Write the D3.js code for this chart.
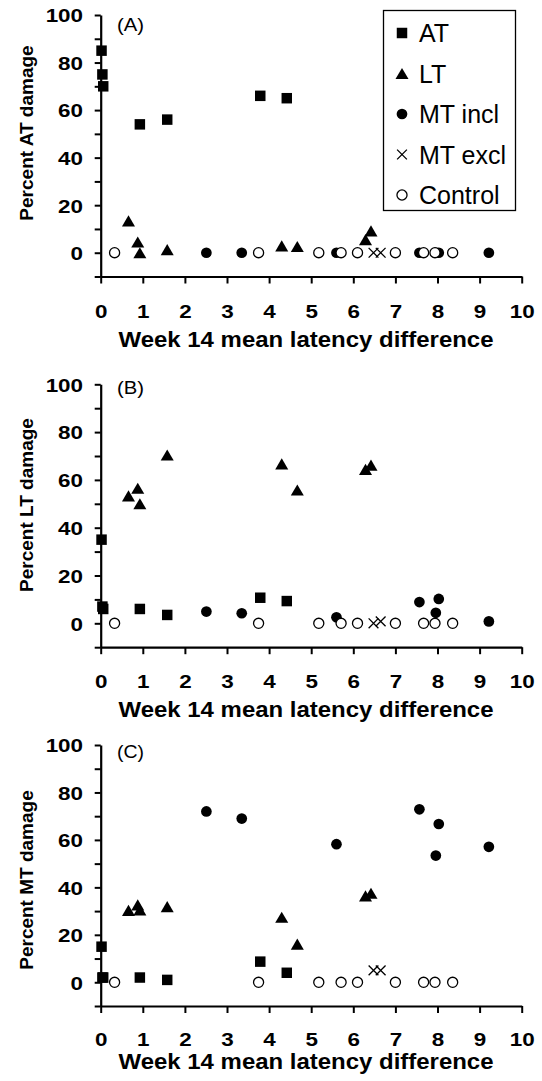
<!DOCTYPE html>
<html lang="en">
<head>
<meta charset="UTF-8">
<title>Percent damage vs latency difference</title>
<script src="https://cdn.jsdelivr.net/npm/d3@7"></script>
<style>
    body { margin: 0; background: #fff; }
    svg { display: block; font-family: "Liberation Sans", Arial, sans-serif; }
</style>
</head>
<body>
<div id="chart"></div>
<script>
    // --- data ---
    const groups = ["AT", "LT", "MT incl", "MT excl", "Control"];

    const atX = [0.02, 0.04, 0.06, 0.93, 1.58, 3.79, 4.42];
    const atA = [85, 75, 70, 54, 56, 66, 65];
    const atB = [35, 7, 6, 6, 3.5, 10.7, 9.3];
    const atC = [15, 2, 2, 2, 1, 8.7, 4];

    const ltX = [0.66, 0.88, 0.93, 1.58, 4.30, 4.67, 6.29, 6.42];
    const ltA = [13.4, 4.5, 0, 1.3, 2.9, 2.6, 5.5, 9.2];
    const ltB = [53.3, 56.5, 50, 70.4, 66.7, 55.8, 64.4, 66.2];
    const ltC = [30.3, 32.6, 30.5, 31.9, 27.4, 16.1, 36.4, 37.5];

    const mtiX = [2.51, 3.35, 5.6, 7.57, 7.96, 8.03, 9.22];
    const mtiA = [0, 0, 0, 0, 0, 0, 0];
    const mtiB = [4.9, 4.2, 2.5, 8.9, 4.4, 10.2, 0.8];
    const mtiC = [72, 69, 58.2, 72.9, 53.4, 66.7, 57.1];

    const mteX = [6.48, 6.65];
    const mteA = [0, 0];
    const mteB = [0, 0.8];
    const mteC = [5, 5];

    const ctlX = [0.33, 3.75, 5.18, 5.71, 6.1, 7.0, 7.67, 7.94, 8.36];
    const ctlA = [0, 0, 0, 0, 0, 0, 0, 0, 0];
    const ctlB = [0, 0, 0, 0, 0, 0, 0, 0, 0];
    const ctlC = [0, 0, 0, 0, 0, 0, 0, 0, 0];

    const xTicks = d3.range(0, 11, 1);
    const yTicks = d3.range(-10, 101, 10);
    const yLabels = [0, 20, 40, 60, 80, 100];

    const panelNames = ["(A)", "(B)", "(C)"];
    const yTitles = ["Percent AT damage", "Percent LT damage", "Percent MT damage"];
    const xTitle = "Week 14 mean latency difference";

    const seriesX = [atX, ltX, mtiX, mteX, ctlX];
    const seriesY = [
        [atA, ltA, mtiA, mteA, ctlA],
        [atB, ltB, mtiB, mteB, ctlB],
        [atC, ltC, mtiC, mteC, ctlC]
    ];

    // --- layout ---
    const width = 542, height = 1081;
    const layout = [
        { top: 15, bottom: 276.5, labelY: 31, titleCY: 133, xLabY: 318, xTitleY: 347 },
        { top: 384.3, bottom: 647.2, labelY: 394, titleCY: 505, xLabY: 688, xTitleY: 717 },
        { top: 745, bottom: 1006, labelY: 758, titleCY: 880, xLabY: 1046, xTitleY: 1069 }
    ];
    const stretch = 1.18;

    const svg = d3.select("#chart").append("svg")
        .attr("width", width)
        .attr("height", height);

    const x = d3.scaleLinear().domain([0, 10]).range([100.7, 521.7]);

    // triangle centred on its bounding box
    const triangle = {
        draw(ctx, size) {
            const s = Math.sqrt(size);
            ctx.moveTo(0, -s * 0.47);
            ctx.lineTo(s * 0.55, s * 0.47);
            ctx.lineTo(-s * 0.55, s * 0.47);
            ctx.closePath();
        }
    };
    const marks = [
        { sym: d3.symbol(d3.symbolSquare, 110), fill: "#000", stroke: "none" },
        { sym: d3.symbol(triangle, 140), fill: "#000", stroke: "none" },
        { sym: d3.symbol(d3.symbolCircle, 90), fill: "#000", stroke: "none" },
        { sym: d3.symbol(d3.symbolTimes, 64), fill: "none", stroke: "#000" },
        { sym: d3.symbol(d3.symbolCircle, 80), fill: "#fff", stroke: "#000" }
    ];

    layout.forEach((p, i) => {
        const y = d3.scaleLinear().domain([-10, 100]).range([p.bottom, p.top]);
        const g = svg.append("g");

        // y axis
        const ya = g.append("g")
            .attr("transform", `translate(${x(0)},0)`)
            .call(d3.axisLeft(y)
                .tickValues(yTicks)
                .tickSize(6)
                .tickSizeOuter(0)
                .tickPadding(9)
                .tickFormat(d => yLabels.includes(d) ? d : ""));
        // x axis
        const xa = g.append("g")
            .attr("transform", `translate(0,${y(-10)})`)
            .call(d3.axisBottom(x)
                .tickValues(xTicks)
                .tickSize(7)
                .tickSizeOuter(0)
                .tickPadding(p.xLabY - y(-10) - 7 - 13.5));

        [ya, xa].forEach(a => {
            a.select(".domain").attr("stroke-width", 2.2);
            a.selectAll(".tick line").attr("stroke-width", 2);
            a.selectAll(".tick text")
                .attr("font-family", "Liberation Sans, Arial, sans-serif")
                .attr("font-size", 19)
                .attr("font-weight", "bold")
                .attr("fill", "#000");
        });
        ya.selectAll(".tick text")
            .attr("dy", "0.36em")
            .attr("transform", `scale(${stretch},1)`);
        xa.selectAll(".tick text")
            .attr("transform", `scale(${stretch},1)`);

        // titles
        g.append("text")
            .attr("x", 306)
            .attr("y", p.xTitleY)
            .attr("text-anchor", "middle")
            .attr("font-size", 22)
            .attr("font-weight", "bold")
            .attr("textLength", 375)
            .attr("lengthAdjust", "spacingAndGlyphs")
            .text(xTitle);

        g.append("text")
            .attr("transform", `translate(33,${p.titleCY}) rotate(-90)`)
            .attr("text-anchor", "middle")
            .attr("font-size", 19)
            .attr("font-weight", "bold")
            .text(yTitles[i]);

        g.append("text")
            .attr("x", 117)
            .attr("y", p.labelY)
            .attr("font-size", 19)
            .attr("textLength", 27)
            .attr("lengthAdjust", "spacingAndGlyphs")
            .text(panelNames[i]);

        // points
        groups.forEach((name, k) => {
            const pts = seriesX[k].map((v, j) => [v, seriesY[i][k][j]]);
            g.append("g")
                .selectAll("path")
                .data(pts)
                .join("path")
                .attr("d", marks[k].sym)
                .attr("transform", d => `translate(${x(d[0])},${y(d[1])})`)
                .attr("fill", marks[k].fill)
                .attr("stroke", marks[k].stroke)
                .attr("stroke-width", 1.3);
        });
    });

    // legend (panel A)
    const lg = svg.append("g");
    lg.append("rect")
        .attr("x", 383.5).attr("y", 10.5)
        .attr("width", 132).attr("height", 200)
        .attr("fill", "#fff")
        .attr("stroke", "#000")
        .attr("stroke-width", 1.3);
    const rowY = d3.scalePoint().domain(groups).range([33, 195]);
    const items = lg.selectAll("g.item")
        .data(groups)
        .join("g")
        .attr("class", "item")
        .attr("transform", d => `translate(402,${rowY(d)})`);
    items.append("path")
        .attr("d", (d, k) => marks[k].sym())
        .attr("fill", (d, k) => marks[k].fill)
        .attr("stroke", (d, k) => marks[k].stroke)
        .attr("stroke-width", 1.3);
    items.append("text")
        .attr("x", 17)
        .attr("dy", "0.36em")
        .attr("font-size", 25)
        .text(d => d);
</script>
</body>
</html>
